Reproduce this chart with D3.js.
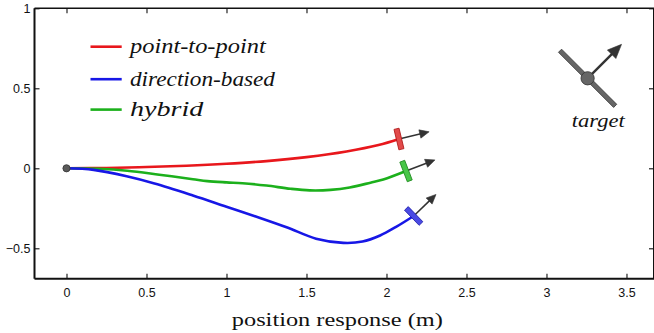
<!DOCTYPE html>
<html><head><meta charset="utf-8">
<script src="https://cdn.jsdelivr.net/npm/d3@7"></script>
<style>html,body{margin:0;padding:0;background:#fff;}svg{display:block;}</style>
</head><body>
<svg id="c" width="654" height="333"></svg>
<script>
// ---- data ----
const xTicks = [0, 0.5, 1, 1.5, 2, 2.5, 3, 3.5];
const yTicks = [-0.5, 0, 0.5, 1];
const seriesNames = ["point-to-point", "direction-based", "hybrid"];
const seriesColors = ["#e8171c", "#1717e6", "#1cb01c"];
const markFill = ["#e24a4a", "#4a4ae4", "#48c648"];
const markStroke = ["#b01818", "#1c1ca8", "#1f8a1f"];
const pointToPointX = [0, 0.25, 0.5, 0.75, 1.0, 1.25, 1.5, 1.75, 1.95, 2.078];
const pointToPointY = [0, 0.002, 0.008, 0.016, 0.028, 0.045, 0.07, 0.105, 0.145, 0.183];
const directionX = [0, 0.17, 0.376, 0.55, 0.79, 1.0, 1.21, 1.38, 1.56, 1.73, 1.85, 1.96, 2.06, 2.17];
const directionY = [0, -0.01, -0.05, -0.095, -0.17, -0.24, -0.31, -0.37, -0.44, -0.466, -0.458, -0.42, -0.366, -0.298];
const hybridX = [0, 0.2, 0.38, 0.58, 0.79, 0.88, 1.0, 1.1, 1.25, 1.4, 1.52, 1.65, 1.77, 1.9, 1.98, 2.122];
const hybridY = [0, -0.003, -0.015, -0.04, -0.068, -0.08, -0.088, -0.093, -0.108, -0.128, -0.138, -0.135, -0.12, -0.09, -0.07, -0.017];
const endHeadingDeg = [13.5, 44, 21];
const targetPos = [3.257, 0.5625];
const targetHeadingDeg = 45;
const xLabel = "position response (m)";
const targetLabel = "target";

// ---- layout ----
const svg = d3.select("#c");
const x = d3.scaleLinear().domain([-0.2, 3.672]).range([34.5, 654]);
const y = d3.scaleLinear().domain([-0.69, 1]).range([278.7, 8.3]);
const X0 = 34.5, X1 = 654, Y0 = 278.7, Y1 = 8.3;
const SANS = '"Liberation Sans", Arial, sans-serif';
const SERIF = '"Liberation Serif", serif';

// frame
svg.append("line").attr("x1", X0).attr("x2", X1).attr("y1", Y1).attr("y2", Y1).attr("stroke", "#111").attr("stroke-width", 1.4);
svg.append("line").attr("x1", X0).attr("x2", X1).attr("y1", Y0).attr("y2", Y0).attr("stroke", "#111").attr("stroke-width", 2);
svg.append("line").attr("x1", X0).attr("x2", X0).attr("y1", Y1).attr("y2", Y0).attr("stroke", "#111").attr("stroke-width", 2);
svg.append("line").attr("x1", X1).attr("x2", X1).attr("y1", Y1).attr("y2", Y0).attr("stroke", "#111").attr("stroke-width", 2);

// axes with inward ticks
const fmt = d => (d < 0 ? "\u2212" : "") + String(Math.abs(d));
const gBottom = svg.append("g").attr("transform", `translate(0,${Y0})`)
  .call(d3.axisBottom(x).tickValues(xTicks).tickSizeInner(-5).tickSizeOuter(0).tickPadding(10).tickFormat(fmt));
const gTop = svg.append("g").attr("transform", `translate(0,${Y1})`)
  .call(d3.axisTop(x).tickValues(xTicks).tickSizeInner(-5).tickSizeOuter(0).tickFormat(""));
const gLeft = svg.append("g").attr("transform", `translate(${X0},0)`)
  .call(d3.axisLeft(y).tickValues(yTicks).tickSizeInner(-5).tickSizeOuter(0).tickPadding(9).tickFormat(fmt));
const gRight = svg.append("g").attr("transform", `translate(${X1},0)`)
  .call(d3.axisRight(y).tickValues(yTicks).tickSizeInner(-5).tickSizeOuter(0).tickFormat(""));
[gBottom, gTop, gLeft, gRight].forEach(g => {
  g.attr("font-family", SANS).attr("font-size", 12.5);
  g.select(".domain").remove();
  g.selectAll(".tick line").attr("stroke", "#111").attr("stroke-width", 1.1);
  g.selectAll(".tick text").attr("fill", "#111");
});
gBottom.selectAll(".tick text").attr("dy", null).attr("y", 0).attr("transform", "translate(0,17.8)");
gLeft.selectAll(".tick text").attr("dy", "0.36em").attr("x", -4);

// curves
const seriesX = [pointToPointX, directionX, hybridX];
const seriesY = [pointToPointY, directionY, hybridY];
const line = d3.line().x(d => x(d[0])).y(d => y(d[1])).curve(d3.curveCatmullRom.alpha(0.5));
const drawOrder = [0, 2, 1];
drawOrder.forEach(i => {
  const pts = seriesX[i].map((v, k) => [v, seriesY[i][k]]);
  svg.append("path").attr("d", line(pts)).attr("fill", "none")
    .attr("stroke", seriesColors[i]).attr("stroke-width", 2.6).attr("stroke-linecap", "round");
});

function arrow(cx, cy, angDeg, len, headLen, headW, sw) {
  const a = -angDeg * Math.PI / 180;
  const ux = Math.cos(a), uy = Math.sin(a);
  const tx = cx + ux * len, ty = cy + uy * len;
  const bx = tx - ux * headLen, by = ty - uy * headLen;
  svg.append("line").attr("x1", cx).attr("y1", cy).attr("x2", bx + ux * 1).attr("y2", by + uy * 1)
    .attr("stroke", "#333").attr("stroke-width", sw);
  const px = -uy, py = ux;
  svg.append("path").attr("d", `M${tx},${ty}L${bx + px * headW / 2},${by + py * headW / 2}L${bx - px * headW / 2},${by - py * headW / 2}Z`)
    .attr("fill", "#333").attr("stroke", "#333").attr("stroke-width", 0.6).attr("stroke-linejoin", "round");
}

// end markers
[0, 1, 2].forEach(i => {
  const n = seriesX[i].length - 1;
  const cx = x(seriesX[i][n]), cy = y(seriesY[i][n]);
  arrow(cx, cy, endHeadingDeg[i], 31, 9.5, 8.5, 1.6);
  svg.append("rect").attr("x", -2.6).attr("y", -10.5).attr("width", 5.2).attr("height", 21)
    .attr("transform", `translate(${cx},${cy}) rotate(${-endHeadingDeg[i]})`)
    .attr("fill", markFill[i]).attr("stroke", markStroke[i]).attr("stroke-width", 0.8);
});

// start point
svg.append("circle").attr("cx", x(0)).attr("cy", y(0)).attr("r", 3.6).attr("fill", "#5a5a5a").attr("stroke", "#333").attr("stroke-width", 0.8);

// target
const tcx = x(targetPos[0]), tcy = y(targetPos[1]);
svg.append("rect").attr("x", -2.2).attr("y", -39).attr("width", 4.4).attr("height", 78)
  .attr("transform", `translate(${tcx},${tcy}) rotate(${-targetHeadingDeg})`)
  .attr("fill", "#666").attr("stroke", "#3a3a3a").attr("stroke-width", 0.8);
arrow(tcx, tcy, targetHeadingDeg, 48, 14, 12, 2.4);
svg.append("circle").attr("cx", tcx).attr("cy", tcy).attr("r", 6.6).attr("fill", "#666").attr("stroke", "#3a3a3a").attr("stroke-width", 0.9);
svg.append("text").attr("x", 598.3).attr("y", 126.5).attr("text-anchor", "middle")
  .attr("font-family", SERIF).attr("font-style", "italic").attr("font-size", 19.5).attr("fill", "#111")
  .attr("textLength", 53).attr("lengthAdjust", "spacingAndGlyphs").text(targetLabel);

// legend
const legendY = [46.7, 79.2, 109.6];
const legendW = [135.7, 145, 73.3];
seriesNames.forEach((name, i) => {
  svg.append("line").attr("x1", 90.5).attr("x2", 121.7).attr("y1", legendY[i]).attr("y2", legendY[i])
    .attr("stroke", seriesColors[i]).attr("stroke-width", 2.6);
  svg.append("text").attr("x", 130).attr("y", legendY[i] + 6.3)
    .attr("font-family", SERIF).attr("font-style", "italic").attr("font-size", 20).attr("fill", "#111")
    .attr("textLength", legendW[i]).attr("lengthAdjust", "spacingAndGlyphs").text(name);
});

// x label
svg.append("text").attr("x", 337.3).attr("y", 326).attr("text-anchor", "middle")
  .attr("font-family", SERIF).attr("font-size", 19.5).attr("fill", "#111")
  .attr("textLength", 211).attr("lengthAdjust", "spacingAndGlyphs").text(xLabel);
</script>
</body></html>
